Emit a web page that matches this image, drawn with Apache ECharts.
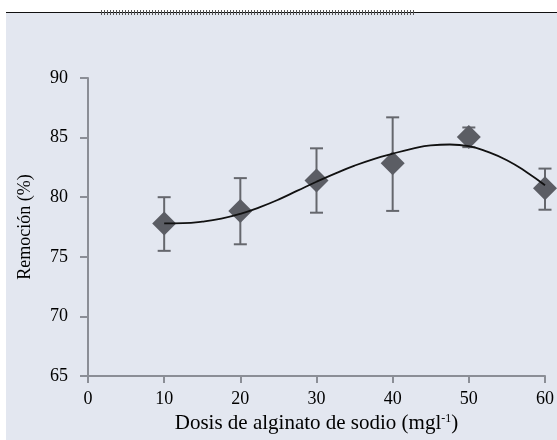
<!DOCTYPE html>
<html><head><meta charset="utf-8">
<script src="https://cdn.jsdelivr.net/npm/echarts@6/dist/echarts.min.js"></script>
<style>html,body{margin:0;padding:0;background:#fff}#c{width:557px;height:440px}</style>
</head><body><div id="c"></div>
<script>
var doses = [10, 20, 30, 40, 50, 60];
var means = [77.8, 78.85, 81.4, 82.85, 85.05, 80.75];
var upper = [80.0, 81.6, 84.1, 86.7, 85.85, 82.4];
var lower = [75.5, 76.05, 78.7, 78.85, 84.2, 78.95];
var fitX = [10, 12.5, 15, 17.5, 20, 22.5, 25, 27.5, 30, 32.5, 35, 37.5, 40, 42.5, 45, 47.5, 50, 52.5, 55, 57.5, 60];
var fitY = [77.8, 77.82, 77.95, 78.2, 78.6, 79.15, 79.8, 80.55, 81.3, 82.0, 82.65, 83.2, 83.65, 84.05, 84.35, 84.42, 84.28, 83.8, 83.1, 82.14, 81.0];
var xTicks = [0, 10, 20, 30, 40, 50, 60];
var yTicks = [65, 70, 75, 80, 85, 90];

var chart = echarts.init(document.getElementById('c'), null, {renderer: 'canvas'});
var font = 'Liberation Serif';
var axisColor = '#8b8e96';
var option = {
  animation: false,
  backgroundColor: '#ffffff',
  graphic: [
    {type: 'rect', z: -10, shape: {x: 6, y: 13, width: 551, height: 427}, style: {fill: '#e3e7f0'}},
    {type: 'line', shape: {x1: 6, y1: 12.5, x2: 557, y2: 12.5}, style: {stroke: '#111', lineWidth: 1}},
    {type: 'line', shape: {x1: 101, y1: 12.5, x2: 416, y2: 12.5}, style: {stroke: '#555', lineWidth: 5, lineDash: [1, 2]}}
  ],
  grid: {left: 88, right: 8, top: 78, bottom: 64},
  xAxis: {
    type: 'value', min: 0, max: 60, interval: 10,
    axisLine: {lineStyle: {color: axisColor, width: 2}},
    axisTick: {show: true, length: 7, lineStyle: {color: axisColor, width: 2}},
    splitLine: {show: false},
    axisLabel: {color: '#000', fontFamily: font, fontSize: 18, margin: 14,
      formatter: function (v) { return xTicks.indexOf(v) >= 0 ? String(v) : ''; }},
    name: '{a|Dosis de alginato de sodio (mgl}{s|-1}{a|)}',
    nameLocation: 'middle', nameGap: 37,
    nameTextStyle: {rich: {
      a: {fontFamily: font, fontSize: 21, color: '#000'},
      s: {fontFamily: font, fontSize: 12, color: '#000', verticalAlign: 'top', padding: [0, 0, 9, 0]}
    }}
  },
  yAxis: {
    type: 'value', min: 65, max: 90, interval: 5,
    axisLine: {show: true, lineStyle: {color: axisColor, width: 2}},
    axisTick: {show: true, length: 8, lineStyle: {color: axisColor, width: 2}},
    splitLine: {show: false},
    axisLabel: {color: '#000', fontFamily: font, fontSize: 18, margin: 20,
      formatter: function (v) { return yTicks.indexOf(v) >= 0 ? String(v) : ''; }},
    name: 'Remoción (%)', nameLocation: 'middle', nameGap: 54,
    nameTextStyle: {fontFamily: font, fontSize: 18, color: '#000'}
  },
  series: [
    {
      type: 'custom', z: 2,
      data: doses.map(function (d, i) { return [d, lower[i], upper[i]]; }),
      renderItem: function (params, api) {
        var lo = api.coord([api.value(0), api.value(1)]);
        var hi = api.coord([api.value(0), api.value(2)]);
        var w = 6.5;
        var st = {stroke: '#65676d', lineWidth: 2};
        return {type: 'group', children: [
          {type: 'line', shape: {x1: hi[0], y1: hi[1], x2: lo[0], y2: lo[1]}, style: st},
          {type: 'line', shape: {x1: hi[0] - w, y1: hi[1], x2: hi[0] + w, y2: hi[1]}, style: st},
          {type: 'line', shape: {x1: lo[0] - w, y1: lo[1], x2: lo[0] + w, y2: lo[1]}, style: st}
        ]};
      }
    },
    {
      type: 'scatter', z: 3, symbol: 'diamond', symbolSize: [24, 24],
      itemStyle: {color: '#5b5d64', opacity: 1},
      data: doses.map(function (d, i) { return [d, means[i]]; })
    },
    {
      type: 'line', z: 4, smooth: true, symbol: 'none',
      lineStyle: {color: '#111', width: 1.8},
      data: fitX.map(function (x, i) { return [x, fitY[i]]; })
    }
  ]
};
chart.setOption(option);
</script></body></html>
